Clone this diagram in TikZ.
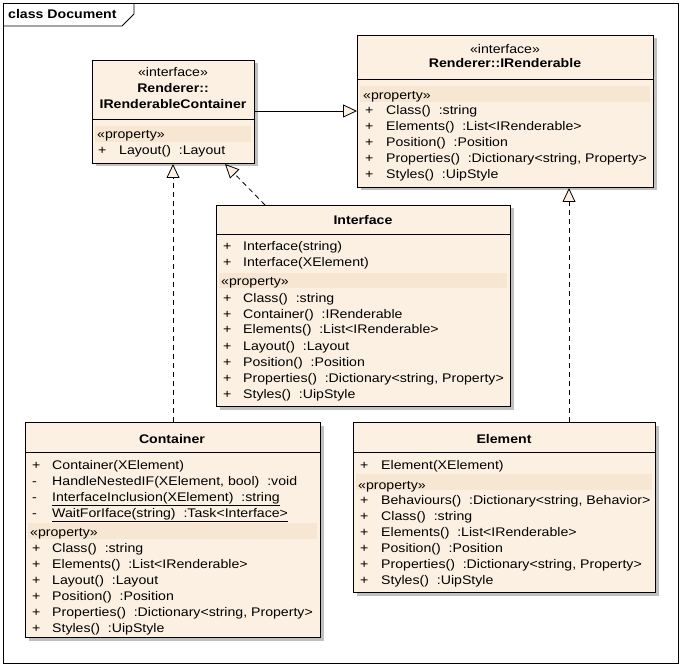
\documentclass[tikz,border=0pt]{standalone}
\usepackage{xcolor}
\usepackage{fontspec}
\setmainfont{Liberation Sans}[FakeStretch=1.13]
\usepackage{tikz}
\usetikzlibrary{arrows.meta,shadows}

\definecolor{boxfill}{RGB}{251,240,226}
\definecolor{bandfill}{RGB}{246,230,210}
\definecolor{shadegray}{RGB}{192,192,192}

\tikzset{
  classbox/.style={draw,line width=1pt,fill=boxfill,inner sep=0pt,anchor=north west,
    drop shadow={shadow xshift=3pt,shadow yshift=-3pt,fill=shadegray,opacity=1}},
  member/.style={anchor=base west,inner sep=0pt,font=\fontsize{12.5}{15}\selectfont},
  title/.style={anchor=base,inner sep=0pt,font=\fontsize{12.5}{15}\selectfont\bfseries},
  stereo/.style={anchor=base,inner sep=0pt,font=\fontsize{12.5}{15}\selectfont},
  realize/.style={line width=0.8pt,dash pattern=on 5pt off 4pt,
    -{Triangle[length=14pt,width=13pt,fill=boxfill]}},
  inherit/.style={line width=0.8pt,-{Triangle[length=14pt,width=13pt,fill=boxfill]}}
}

\begin{document}
\begin{tikzpicture}[x=1pt,y=-1pt]
\useasboundingbox (0,0) rectangle (681,666);
% frame
\draw[line width=0.8pt] (3,3) rectangle (678,663);
\draw[line width=0.8pt] (3,26) -- (122,26) -- (134,14) -- (134,3);
\node[member] (frame) at (8,19) {\bfseries class Document};

% boxes
\node[classbox,minimum width=162pt,minimum height=103pt] (irc) at (92,60) {};
\node[classbox,minimum width=296pt,minimum height=152pt] (ir) at (357,35) {};
\node[classbox,minimum width=294pt,minimum height=201pt] (intf) at (216,205) {};
\node[classbox,minimum width=295pt,minimum height=215pt] (cont) at (25,422) {};
\node[classbox,minimum width=302pt,minimum height=170pt] (elem) at (353,422) {};

% header lines
\draw[line width=0.8pt] (92,119) -- (254,119);
\draw[line width=0.8pt] (357,79) -- (653,79);
\draw[line width=0.8pt] (216,234) -- (510,234);
\draw[line width=0.8pt] (25,452) -- (320,452);
\draw[line width=0.8pt] (353,452) -- (655,452);

% property bands
\fill[bandfill] (95,126) rectangle (251,142);
\fill[bandfill] (360,86) rectangle (650,102);
\fill[bandfill] (219,273) rectangle (507,288);
\fill[bandfill] (28,523) rectangle (317,539);
\fill[bandfill] (356,474) rectangle (652,490);

% Renderer::IRenderableContainer
\node[stereo] (ircs) at (173,77) {«interface»};
\node[title] (ircn1) at (173,93) {Renderer::};
\node[title] (ircn2) at (173,109) {IRenderableContainer};
\node[member] (ircp) at (97,139) {«property»};
\node[member] (ircp1) at (98,155) {+};
\node[member] (ircm1) at (119,155) {Layout()\ \ :Layout};

% Renderer::IRenderable
\node[stereo] (irs) at (505,54) {«interface»};
\node[title] (irn) at (505,68) {Renderer::IRenderable};
\node[member] (irp) at (363,100) {«property»};
\foreach \txt [count=\i] in {{Class()\ \ :string},{Elements()\ \ :List<IRenderable>},
  {Position()\ \ :Position},{Properties()\ \ :Dictionary<string, Property>},{Styles()\ \ :UipStyle}}{
  \node[member] (irp\i) at (365,{99+16*\i}) {+};
  \node[member] (irm\i) at (386,{99+16*\i}) {\txt};
}

% Interface
\node[title] (intfn) at (363,225) {Interface};
\foreach \txt [count=\i] in {{Interface(string)},{Interface(XElement)}}{
  \node[member] (intfo\i) at (223,{235+16*\i}) {+};
  \node[member] (intfc\i) at (243,{235+16*\i}) {\txt};
}
\node[member] (intfp) at (221,286) {«property»};
\foreach \txt [count=\i] in {{Class()\ \ :string},{Container()\ \ :IRenderable},
  {Elements()\ \ :List<IRenderable>},{Layout()\ \ :Layout},{Position()\ \ :Position},
  {Properties()\ \ :Dictionary<string, Property>},{Styles()\ \ :UipStyle}}{
  \node[member] (intfq\i) at (223,{286+16*\i}) {+};
  \node[member] (intfm\i) at (243,{286+16*\i}) {\txt};
}

% Container
\node[title] (contn) at (172,443) {Container};
\foreach \sgn/\txt [count=\i] in {+/{Container(XElement)},-/{HandleNestedIF(XElement, bool)\ \ :void},
  -/{\underline{InterfaceInclusion(XElement)\ \ :string}},-/{\underline{WaitForIface(string)\ \ :Task<Interface>}}}{
  \node[member] (conto\i) at (32,{453+16*\i}) {\sgn};
  \node[member] (contc\i) at (52,{453+16*\i}) {\txt};
}
\node[member] (contp) at (30,536) {«property»};
\foreach \txt [count=\i] in {{Class()\ \ :string},{Elements()\ \ :List<IRenderable>},
  {Layout()\ \ :Layout},{Position()\ \ :Position},
  {Properties()\ \ :Dictionary<string, Property>},{Styles()\ \ :UipStyle}}{
  \node[member] (contq\i) at (32,{536+16*\i}) {+};
  \node[member] (contm\i) at (52,{536+16*\i}) {\txt};
}

% Element
\node[title] (elemn) at (504,443) {Element};
\node[member] (elemo1) at (360,469) {+};
\node[member] (elemc1) at (381,469) {Element(XElement)};
\node[member] (elemp) at (358,489) {«property»};
\foreach \txt [count=\i] in {{Behaviours()\ \ :Dictionary<string, Behavior>},{Class()\ \ :string},
  {Elements()\ \ :List<IRenderable>},{Position()\ \ :Position},
  {Properties()\ \ :Dictionary<string, Property>},{Styles()\ \ :UipStyle}}{
  \node[member] (elemq\i) at (360,{488+16*\i}) {+};
  \node[member] (elemm\i) at (381,{488+16*\i}) {\txt};
}

% connectors
\coordinate (lnk) at (300,111);
\coordinate (eup) at (569,300);
\draw[inherit] (irc.east |- lnk) -- (ir.west |- lnk);
\draw[realize] (cont.north) -- (cont.north |- irc.south);
\draw[realize] ([xshift=49pt]intf.north west) -- ([xshift=-30pt]irc.south east);
\draw[realize] (elem.north -| eup) -- (ir.south -| eup);
\end{tikzpicture}
\end{document}
